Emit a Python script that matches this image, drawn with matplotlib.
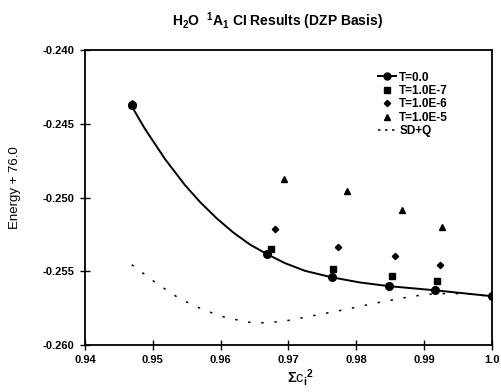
"""
H2O 1A1 CI results (DZP basis): energy vs sum of c_i^2 for several
selection thresholds, with the SD+Q estimate.
"""

import numpy as np
import matplotlib
matplotlib.use("Agg")
import matplotlib.pyplot as plt
from matplotlib.lines import Line2D

plt.rcParams["font.family"] = ["Liberation Sans", "DejaVu Sans"]
plt.rcParams["font.weight"] = "bold"
plt.rcParams["mathtext.fontset"] = "custom"
plt.rcParams["mathtext.rm"] = "Liberation Sans:bold"
plt.rcParams["mathtext.it"] = "Liberation Sans:bold"
plt.rcParams["mathtext.bf"] = "Liberation Sans:bold"
plt.rcParams["mathtext.sf"] = "Liberation Sans:bold"

# ----------------------------
# Data
# ----------------------------

# T = 0.0 points
t0_x = [0.9469, 0.9669, 0.9764, 0.9848, 0.9916, 1.0]
t0_y = [-0.24376, -0.25383, -0.25537, -0.25601, -0.25626, -0.25669]

# smooth fit drawn through the T = 0.0 points
fit_x = [0.94689, 0.94885, 0.95180, 0.95475, 0.95696, 0.95942, 0.96187,
         0.96434, 0.96695, 0.96950, 0.97245, 0.97639, 0.98056, 0.98484,
         0.99162, 1.0]
fit_y = [-0.24381, -0.24535, -0.24739, -0.24916, -0.25030, -0.25141, -0.25237,
         -0.25319, -0.25386, -0.25445, -0.25497, -0.25541, -0.25576, -0.25601,
         -0.25629, -0.25669]

# T = 1.0E-7
t7_x = [0.9469, 0.9674, 0.9766, 0.9853, 0.9920]
t7_y = [-0.24370, -0.25349, -0.25488, -0.25535, -0.25565]

# T = 1.0E-6
t6_x = [0.9469, 0.9680, 0.9773, 0.9858, 0.9923]
t6_y = [-0.24368, -0.25215, -0.25338, -0.25395, -0.25456]

# T = 1.0E-5
t5_x = [0.9469, 0.9694, 0.9787, 0.9867, 0.9927]
t5_y = [-0.24358, -0.24873, -0.24957, -0.25084, -0.25197]

# SD+Q
sdq_x = [0.9469, 0.9506, 0.9540, 0.9576, 0.9609, 0.9643, 0.9668, 0.9698,
         0.9730, 0.9781, 0.9833, 0.9884, 0.9919, 0.9960, 1.0]
sdq_y = [-0.25456, -0.25583, -0.25687, -0.25764, -0.25816, -0.25846, -0.25850,
         -0.25835, -0.25807, -0.25762, -0.25712, -0.25669, -0.25651, -0.25652,
         -0.25669]

x_ticks = [0.94, 0.95, 0.96, 0.97, 0.98, 0.99, 1.0]
x_tick_labels = ["0.94", "0.95", "0.96", "0.97", "0.98", "0.99", "1.0"]
y_ticks = [-0.240, -0.245, -0.250, -0.255, -0.260]
y_tick_labels = ["-0.240", "-0.245", "-0.250", "-0.255", "-0.260"]

# ----------------------------
# Figure
# ----------------------------

fig = plt.figure(figsize=(5.02, 3.92), dpi=100)
ax = fig.add_axes([0.1693, 0.1199, 0.9795 - 0.1693, 0.8724 - 0.1199])

ax.plot(fit_x, fit_y, color="black", lw=1.4)
ax.plot(t0_x, t0_y, "o", color="black", ms=5.5)
ax.plot(t7_x, t7_y, "s", color="black", ms=4.5)
ax.plot(t6_x, t6_y, "D", color="black", ms=3.2)
ax.plot(t5_x, t5_y, "^", color="black", ms=4.2)
ax.plot(sdq_x, sdq_y, color="black", lw=1.1, dashes=(1.6, 7))

ax.set_xlim(0.94, 1.0)
ax.set_ylim(-0.260, -0.240)
ax.set_xticks(x_ticks)
ax.set_xticklabels(x_tick_labels)
ax.set_yticks(y_ticks)
ax.set_yticklabels(y_tick_labels)
ax.tick_params(direction="inout", length=7, width=1, labelsize=8, pad=4)
for s in ax.spines.values():
    s.set_linewidth(1.3)

ax.set_xlabel(r"$\Sigma$c$_\mathrm{i}$$^2$", fontsize=10.5)
ax.xaxis.label.set_va("center")
ax.xaxis.set_label_coords(0.529, -0.11)
ax.set_ylabel("Energy + 76.0", fontsize=9.5)
ax.yaxis.label.set_va("center")
ax.yaxis.set_label_coords(-0.172, 0.534)
fig.text(0.552, 0.945, r"H$_2$O  $^1$A$_1$ CI Results (DZP Basis)",
         ha="center", va="center", fontsize=10)

handles = [
    Line2D([], [], color="black", lw=1.4, marker="o", ms=5),
    Line2D([], [], color="black", lw=0, marker="s", ms=4.5),
    Line2D([], [], color="black", lw=0, marker="D", ms=3.2),
    Line2D([], [], color="black", lw=0, marker="^", ms=4.2),
    Line2D([], [], color="black", lw=1.1, dashes=(1.6, 3)),
]
labels = ["T=0.0", "T=1.0E-7", "T=1.0E-6", "T=1.0E-5", "SD+Q"]
ax.legend(handles, labels, loc="upper left", bbox_to_anchor=(0.7, 0.955),
          frameon=False, fontsize=8.5, handlelength=1.5, handletextpad=0.3,
          labelspacing=0.12, borderpad=0.2)

fig.savefig("out.png", dpi=100)
plt.close("all")
